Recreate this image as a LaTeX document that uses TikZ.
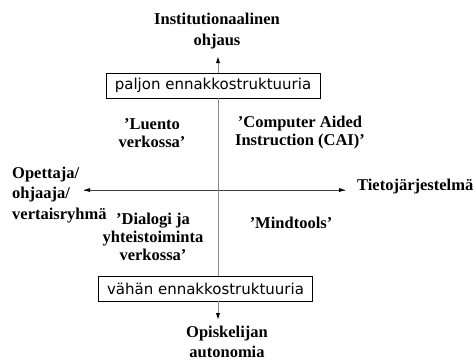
\documentclass[tikz,border=0pt]{standalone}
\usepackage{fontspec}
\setmainfont{Liberation Serif}
\newfontfamily\boxfont{DejaVu Sans}
\usetikzlibrary{arrows.meta,positioning}

\tikzset{
  axislabel/.style={font=\bfseries\fontsize{16.5}{20.5}\selectfont, align=center, inner sep=0pt},
  quadlabel/.style={font=\bfseries\fontsize{16.5}{18}\selectfont, align=center, inner sep=0pt},
  structbox/.style={draw, line width=0.8pt, font=\boxfont\fontsize{15}{18}\selectfont,
                    minimum width=214pt, minimum height=25pt, inner sep=0pt}
}

\begin{document}
\begin{tikzpicture}[x=1pt, y=-1pt]
\useasboundingbox (0,0) rectangle (475,360);

% akselien kärjet
\coordinate (tipN) at (218,57);
\coordinate (tipS) at (218,319);
\coordinate (tipW) at (84,190);
\coordinate (tipE) at (345,190);

% ääripäiden tekstit
\node[axislabel] (instit) at (217,31) {Institutionaalinen\\ohjaus};
\node[axislabel] (autono) at (227,342) {Opiskelijan\\autonomia};
\node[axislabel, align=left, anchor=west] (teacher) at (12,195) {Opettaja/\\ohjaaja/\\vertaisryhmä};
\node[axislabel, anchor=west] (system) at (357,187) {Tietojärjestelmä};

% laatikot
\node[structbox] (highStr) at (213,85.5) {paljon ennakkostruktuuria};
\node[structbox] (lowStr) at (205.5,288.5) {vähän ennakkostruktuuria};

% neljännesten tekstit
\node[quadlabel] (lecture) at (152,133) {’Luento\\verkossa’};
\node[quadlabel] (cai) at (300,133) {’Computer Aided\\Instruction (CAI)’};
\node[quadlabel] (dialog) at (153,237) {’Dialogi ja\\yhteistoiminta\\verkossa’};
\node[quadlabel] (mind) at (291,223) {’Mindtools’};

% akselit
\draw[black!75, line width=0.8pt] (tipW) -- (tipE);
\fill (tipW) -- ++(6,-2) -- ++(0,4) -- cycle;
\fill (tipE) -- ++(-6,-2) -- ++(0,4) -- cycle;
\draw[black!45, line width=1pt] (highStr.south -| tipN) -- (lowStr.north -| tipN);
\draw[black!45, line width=1pt] (highStr.north -| tipN) -- ++(0,-10);
\fill (tipN) -- ++(-2,6) -- ++(4,0) -- cycle;
\draw[black!45, line width=1pt] (lowStr.south -| tipS) -- ++(0,12);
\fill (tipS) -- ++(-2,-6) -- ++(4,0) -- cycle;
\end{tikzpicture}
\end{document}
